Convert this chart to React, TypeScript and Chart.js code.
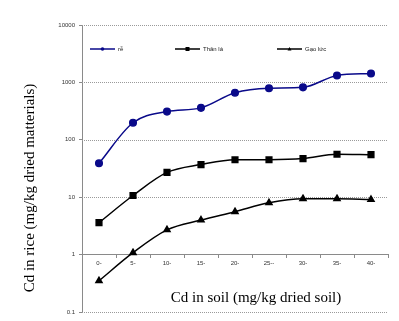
import React, { useEffect, useRef } from "react";
import { Chart, registerables } from "chart.js";

Chart.register(...registerables);

const categories = ["0-", "5-", "10-", "15-", "20-", "25--", "30-", "35-", "40-"];
const reValues = [39, 198, 310, 360, 660, 790, 820, 1320, 1430];
const thanLaValues = [3.6, 10.7, 27, 37, 45, 45, 47, 56, 55];
const gaoLucValues = [0.35, 1.08, 2.7, 4.0, 5.6, 8.0, 9.4, 9.4, 9.1];
const yTicks = [0.1, 1, 10, 100, 1000, 10000];
const seriesNames = ["rễ", "Thân lá", "Gạo lức"];
const yTitle = "Cd in rice (mg/kg dried matterials)";
const xTitle = "Cd in soil (mg/kg dried soil)";

const BLUE = "#0a0a8a";

const decorPlugin = {
  id: "decor",
  beforeDatasetsDraw(chart: any) {
    const { ctx, chartArea, scales } = chart;
    const y = scales.y;
    ctx.save();
    ctx.strokeStyle = "#9a9a9a";
    ctx.lineWidth = 1;
    ctx.setLineDash([1, 1]);
    yTicks.forEach((v) => {
      if (v === 1) return;
      const py = Math.round(y.getPixelForValue(v)) + 0.5;
      ctx.beginPath();
      ctx.moveTo(chartArea.left, py);
      ctx.lineTo(chartArea.right, py);
      ctx.stroke();
    });
    ctx.restore();
  },
  afterDraw(chart: any) {
    const { ctx, chartArea } = chart;
    ctx.save();
    // legend
    const ly = chartArea.top + 24;
    const offsets = [8, 93, 195];
    ctx.font = "6px Arial, 'Liberation Sans'";
    ctx.textBaseline = "middle";
    chart.data.datasets.forEach((ds: any, i: number) => {
      const x0 = chartArea.left + offsets[i];
      ctx.strokeStyle = ds.borderColor;
      ctx.lineWidth = 1.5;
      ctx.setLineDash([]);
      ctx.beginPath();
      ctx.moveTo(x0, ly);
      ctx.lineTo(x0 + 25, ly);
      ctx.stroke();
      ctx.fillStyle = ds.borderColor;
      const cx = x0 + 12.5;
      ctx.beginPath();
      if (ds.pointStyle === "circle") {
        ctx.arc(cx, ly, 1.8, 0, Math.PI * 2);
      } else if (ds.pointStyle === "rect") {
        ctx.rect(cx - 2, ly - 2, 4, 4);
      } else {
        ctx.moveTo(cx, ly - 2);
        ctx.lineTo(cx + 2, ly + 1.5);
        ctx.lineTo(cx - 2, ly + 1.5);
        ctx.closePath();
      }
      ctx.fill();
      ctx.fillStyle = "#222";
      ctx.textAlign = "left";
      ctx.fillText(ds.label, x0 + 28, ly);
    });
    // axis titles
    ctx.fillStyle = "#000";
    ctx.font = "15px 'Liberation Serif', 'Times New Roman', serif";
    ctx.textAlign = "center";
    ctx.textBaseline = "middle";
    ctx.fillText(xTitle, chartArea.left + 174, chartArea.bottom - 14);
    ctx.translate(30, 188);
    ctx.rotate(-Math.PI / 2);
    ctx.fillText(yTitle, 0, 0);
    ctx.restore();
  },
};

export default function App() {
  const ref = useRef<HTMLCanvasElement | null>(null);
  useEffect(() => {
    if (!ref.current) return;
    const chart = new Chart(ref.current, {
      type: "line",
      data: {
        labels: categories,
        datasets: [
          {
            label: seriesNames[0],
            data: reValues,
            borderColor: BLUE,
            backgroundColor: BLUE,
            pointStyle: "circle",
            pointRadius: 3.3,
            borderWidth: 1.5,
            tension: 0.4,
            cubicInterpolationMode: "monotone",
          },
          {
            label: seriesNames[1],
            data: thanLaValues,
            borderColor: "#000",
            backgroundColor: "#000",
            pointStyle: "rect",
            pointRadius: 4,
            borderWidth: 1.5,
            tension: 0.4,
            cubicInterpolationMode: "monotone",
          },
          {
            label: seriesNames[2],
            data: gaoLucValues,
            borderColor: "#000",
            backgroundColor: "#000",
            pointStyle: "triangle",
            pointRadius: 3.5,
            borderWidth: 1.5,
            tension: 0.4,
            cubicInterpolationMode: "monotone",
          },
        ],
      },
      options: {
        animation: false,
        responsive: false,
        layout: { padding: { left: 0, top: 25, right: 11, bottom: 9 } },
        plugins: { legend: { display: false }, tooltip: { enabled: false } },
        scales: {
          x: {
            type: "category",
            position: { y: 1 } as any,
            offset: true,
            grid: {
              offset: true,
              drawOnChartArea: false,
              drawTicks: true,
              tickLength: 3,
              color: "#8a8a8a",
            },
            border: { display: true, color: "#8a8a8a", width: 1 },
            ticks: {
              font: { size: 6, family: "Arial, 'Liberation Sans'" },
              color: "#333",
              padding: 2,
              maxRotation: 0,
              autoSkip: false,
            },
          },
          y: {
            type: "logarithmic",
            min: 0.1,
            max: 10000,
            afterBuildTicks: (s: any) => {
              s.ticks = yTicks.map((v) => ({ value: v }));
            },
            afterFit: (s: any) => {
              s.width = 82;
            },
            grid: {
              display: true,
              drawOnChartArea: false,
              drawTicks: true,
              tickLength: 3,
              color: "#8a8a8a",
            },
            border: { display: true, color: "#8a8a8a", width: 1 },
            ticks: {
              font: { size: 6, family: "Arial, 'Liberation Sans'" },
              color: "#333",
              padding: 4,
              callback: (v: any) => String(v),
            },
          },
        },
      },
      plugins: [decorPlugin],
    });
    return () => chart.destroy();
  }, []);
  return (
    <div style={{ position: "fixed", left: 0, top: 0, width: 399, height: 321, background: "#fff" }}>
      <canvas ref={ref} width={399} height={321} style={{ width: 399, height: 321 }} />
    </div>
  );
}
